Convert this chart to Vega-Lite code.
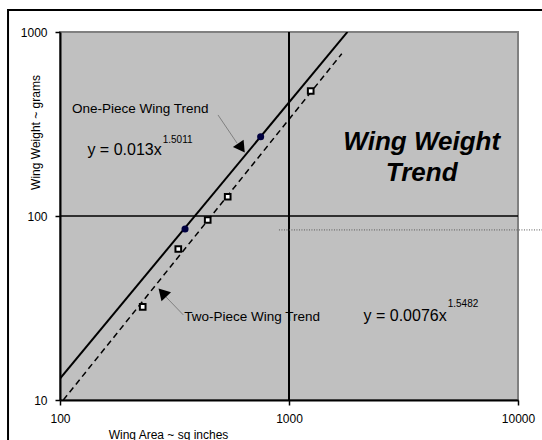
{
  "$schema": "https://vega.github.io/schema/vega-lite/v6.json",
  "width": 458,
  "height": 368,
  "autosize": {"type": "none"},
  "padding": {"left": 60, "top": 32, "right": 24, "bottom": 40},
  "background": "white",
  "config": {
    "view": {"fill": "#C0C0C0", "stroke": "#808080", "strokeWidth": 2},
    "axis": {
      "domainColor": "black", "domainWidth": 2, "tickColor": "black", "tickWidth": 1.5, "tickSize": 5,
      "labelFont": "Liberation Sans", "labelFontSize": 12, "labelColor": "black", "labelPadding": 8,
      "titleFont": "Liberation Sans", "titleFontSize": 12, "titleFontWeight": "normal", "titleColor": "black",
      "grid": false, "labelOverlap": false, "labelBound": false, "labelFlush": false
    }
  },
  "datasets": {
    "pts": [
      {"x": 351.6, "y": 85.0, "s": "One-Piece"},
      {"x": 752, "y": 269.8, "s": "One-Piece"},
      {"x": 229.7, "y": 32.1, "s": "Two-Piece"},
      {"x": 328.5, "y": 66.2, "s": "Two-Piece"},
      {"x": 441.6, "y": 95.1, "s": "Two-Piece"},
      {"x": 539.9, "y": 127.3, "s": "Two-Piece"},
      {"x": 1244, "y": 477.9, "s": "Two-Piece"}
    ],
    "trend": [
      {"x": 100, "y": 13.07, "s": "One-Piece"},
      {"x": 1800, "y": 1001, "s": "One-Piece"},
      {"x": 103.4, "y": 10, "s": "Two-Piece"},
      {"x": 1700, "y": 762, "s": "Two-Piece"}
    ]
  },
  "encoding": {
    "x": {
      "field": "x", "type": "quantitative",
      "scale": {"type": "log", "domain": [100, 10000], "nice": false},
      "axis": {"values": [100, 1000, 10000], "format": "d", "title": "Wing Area ~ sq inches", "titleX": 108, "titleY": 29, "titleAlign": "center", "titleAnchor": null}
    },
    "y": {
      "field": "y", "type": "quantitative",
      "scale": {"type": "log", "domain": [10, 1000], "nice": false},
      "axis": {"values": [10, 100, 1000], "format": "d", "title": "Wing Weight ~ grams", "titleX": -25, "titleY": 100, "titleAlign": "center", "titleBaseline": "middle", "titleAngle": -90}
    }
  },
  "layer": [
    {
      "data": {"values": [{"x": 59.3, "x2": 100000, "y": 1317, "y2": 1}]},
      "mark": {"type": "rect", "fill": null, "fillOpacity": 0, "stroke": "black", "strokeWidth": 2, "clip": false},
      "encoding": {"x2": {"field": "x2"}, "y2": {"field": "y2"}}
    },
    {
      "data": {"values": [{"x": 1000, "y": 10, "y2": 1000}]},
      "mark": {"type": "rule", "color": "black", "strokeWidth": 2},
      "encoding": {"y2": {"field": "y2"}}
    },
    {
      "data": {"values": [{"x": 100, "x2": 10000, "y": 100}]},
      "mark": {"type": "rule", "color": "black", "strokeWidth": 1.5},
      "encoding": {"x2": {"field": "x2"}}
    },
    {
      "data": {"values": [{"x": 904, "x2": 20000, "y": 84}]},
      "mark": {"type": "rule", "color": "#555555", "strokeWidth": 1, "strokeDash": [1, 1.5], "clip": false},
      "encoding": {"x2": {"field": "x2"}}
    },
    {
      "data": {"name": "trend"},
      "transform": [{"filter": "datum.s === 'One-Piece'"}],
      "mark": {"type": "line", "color": "black", "strokeWidth": 2, "clip": true}
    },
    {
      "data": {"name": "trend"},
      "transform": [{"filter": "datum.s === 'Two-Piece'"}],
      "mark": {"type": "line", "color": "black", "strokeWidth": 1.5, "strokeDash": [6, 4], "clip": true}
    },
    {
      "data": {"name": "pts"},
      "transform": [{"filter": "datum.s === 'One-Piece'"}],
      "mark": {"type": "point", "shape": "circle", "filled": true, "color": "#000040", "size": 50, "opacity": 1}
    },
    {
      "data": {"name": "pts"},
      "transform": [{"filter": "datum.s === 'Two-Piece'"}],
      "mark": {"type": "point", "shape": "square", "filled": true, "fill": "white", "stroke": "black", "strokeWidth": 2, "size": 32, "opacity": 1}
    },
    {
      "data": {"values": [
        {"x": 489.8, "y": 354, "x2": 593, "y2": 249},
        {"x": 345.5, "y": 29.0, "x2": 290.4, "y2": 36.3}
      ]},
      "mark": {"type": "rule", "color": "#808080", "strokeWidth": 1},
      "encoding": {"x2": {"field": "x2"}, "y2": {"field": "y2"}}
    },
    {
      "data": {"values": [{"x": 620.3, "y": 234.2}]},
      "mark": {"type": "point", "shape": "triangle-up", "filled": true, "color": "black", "size": 170, "angle": 145, "opacity": 1}
    },
    {
      "data": {"values": [{"x": 280, "y": 38.3}]},
      "mark": {"type": "point", "shape": "triangle-up", "filled": true, "color": "black", "size": 170, "angle": 317, "opacity": 1}
    },
    {
      "data": {"values": [
        {"x": 112.8, "y": 381.5, "t": "One-Piece Wing Trend"},
        {"x": 349, "y": 28.4, "t": "Two-Piece Wing Trend"}
      ]},
      "mark": {"type": "text", "font": "Liberation Sans", "fontSize": 13.5, "align": "left", "baseline": "middle", "color": "black"},
      "encoding": {"text": {"field": "t"}}
    },
    {
      "data": {"values": [
        {"x": 278, "y": 228.4, "t": "y = 0.013x"},
        {"x": 4883, "y": 28.6, "t": "y = 0.0076x"}
      ]},
      "mark": {"type": "text", "font": "Liberation Sans", "fontSize": 16, "align": "right", "baseline": "middle", "color": "black"},
      "encoding": {"text": {"field": "t"}}
    },
    {
      "data": {"values": [
        {"x": 278, "y": 258.8, "t": "1.5011"},
        {"x": 4883, "y": 33.2, "t": "1.5482"}
      ]},
      "mark": {"type": "text", "font": "Liberation Sans", "fontSize": 10, "align": "left", "baseline": "middle", "dx": 1, "color": "black"},
      "encoding": {"text": {"field": "t"}}
    },
    {
      "data": {"values": [
        {"x": 3798, "y": 253.3, "t": "Wing Weight"},
        {"x": 3798, "y": 170.6, "t": "Trend"}
      ]},
      "mark": {"type": "text", "font": "Liberation Sans", "fontSize": 26, "fontWeight": "bold", "fontStyle": "italic", "align": "center", "baseline": "middle", "color": "black"},
      "encoding": {"text": {"field": "t"}}
    }
  ]
}
